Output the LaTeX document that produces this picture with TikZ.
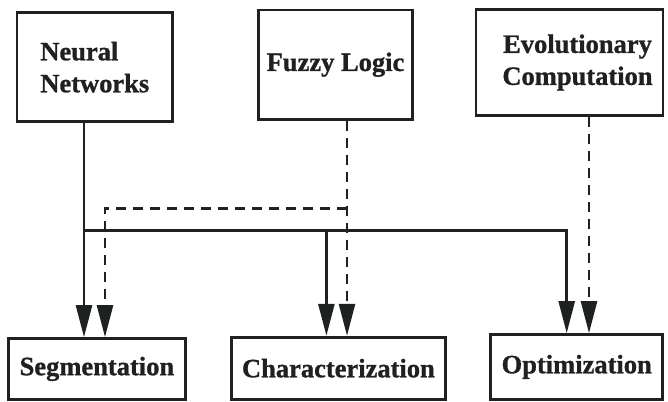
\documentclass[tikz,border=0pt]{standalone}
\usepackage{fontspec}
\setmainfont{Liberation Serif}[BoldFeatures={FakeBold=1}]
\usetikzlibrary{arrows.meta}
\definecolor{ink}{HTML}{1E221E}
\begin{document}
\begin{tikzpicture}[x=1pt,y=-1pt,
  box/.style={draw=ink, text=ink, line width=2.8pt, inner sep=0pt, font=\fontsize{26.5}{32}\selectfont\bfseries},
  sarrow/.style={draw=ink, line width=2.6pt, -{Triangle[length=32pt,width=16pt]}},
  darrow/.style={draw=ink, line width=2.6pt, dash pattern=on 10pt off 7pt, -{Triangle[length=32pt,width=16pt]}}]
\useasboundingbox (0,0) rectangle (668,401);
% top boxes
\node[box, minimum width=155.6pt, minimum height=109pt, align=left] (NN) at (94.8,67.2) {Neural\\Networks};
\node[box, minimum width=153.8pt, minimum height=109.3pt] (FL) at (335.5,64.7) {Fuzzy Logic};
\node[box, minimum width=187pt, minimum height=106pt, align=center] (EC) at (569.5,62.5) {\hspace*{16pt}Evolutionary\\\hspace*{16pt}Computation};
% bottom boxes
\node[box, minimum width=176.8pt, minimum height=60.7pt] (SEG) at (96.9,368.9) {Segmentation};
\node[box, minimum width=213.9pt, minimum height=62pt] (CHR) at (338.4,368.2) {Characterization};
\node[box, minimum width=171.8pt, minimum height=64.7pt] (OPT) at (576.7,366.9) {Optimization};
% helper coordinates
\coordinate (nnx) at (84,0);
\coordinate (jL) at (84,230.7);
\coordinate (jC) at (326.4,230.7);
\coordinate (jR) at (566.7,230.7);
\coordinate (fx) at (347,0);
\coordinate (fj) at (347,208.3);
\coordinate (sj) at (105,208.3);
\coordinate (ex) at (589,0);
% solid connectors
\draw[sarrow] (NN.south -| nnx) -- (SEG.north -| nnx);
\draw[sarrow] (jL) -- (jR) -- (OPT.north -| jR);
\draw[sarrow] (jC) -- (CHR.north -| jC);
% dashed connectors
\draw[darrow] (FL.south -| fx) -- (CHR.north -| fx);
\draw[darrow] (fj) -- (sj) -- (SEG.north -| sj);
\draw[darrow] (EC.south -| ex) -- (OPT.north -| ex);
\end{tikzpicture}
\end{document}
